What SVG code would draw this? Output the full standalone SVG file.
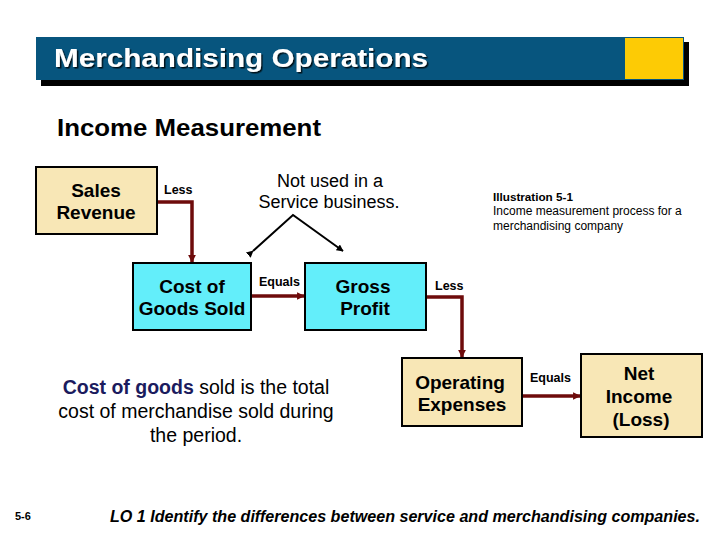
<svg xmlns="http://www.w3.org/2000/svg" width="720" height="540" viewBox="0 0 720 540">
<style>
.box{stroke:#000;stroke-width:2}
.tan{fill:#F8E7B6}
.cyan{fill:#63EEFA}
.lbl{font-family:"Liberation Sans",Arial,sans-serif;font-weight:bold;font-size:19px;fill:#000;text-anchor:middle}
.small{font-family:"Liberation Sans",Arial,sans-serif;font-weight:bold;font-size:12.5px;fill:#000}
.reg{font-family:"Liberation Sans",Arial,sans-serif;font-size:18px;fill:#000;text-anchor:middle}
.red{fill:none;stroke:#6E0B0B;stroke-width:3.5}
.blk{fill:none;stroke:#000;stroke-width:2}
</style>
<defs>
<marker id="ar" viewBox="0 0 10 10" refX="9" refY="5" markerWidth="2.2" markerHeight="2.2" orient="auto" markerUnits="strokeWidth">
<path d="M0,0 L10,5 L0,10 z" fill="#6E0B0B"/>
</marker>
<marker id="ab" viewBox="0 0 10 10" refX="9" refY="5" markerWidth="3.5" markerHeight="3.5" orient="auto" markerUnits="strokeWidth">
<path d="M0,0 L10,5 L0,10 z" fill="#000"/>
</marker>
<filter id="ts" x="-5%" y="-20%" width="110%" height="140%">
<feDropShadow dx="1.5" dy="1.5" stdDeviation="0.5" flood-color="#000" flood-opacity="0.8"/>
</filter>
</defs>
<rect width="720" height="540" fill="#fff"/>
<g id="header">
<rect x="41" y="42" width="648" height="44" fill="#000"/>
<rect x="36" y="37" width="648" height="43" fill="#07557E"/>
<rect x="625" y="38" width="58" height="41" fill="#FDCB05"/>
<text x="54" y="67" font-family="Liberation Sans,Arial,sans-serif" font-weight="bold" font-size="25" fill="#fff" textLength="374" lengthAdjust="spacingAndGlyphs" filter="url(#ts)">Merchandising Operations</text>
</g>
<text x="57" y="136" font-family="Liberation Sans,Arial,sans-serif" font-weight="bold" font-size="24" fill="#000" textLength="264" lengthAdjust="spacingAndGlyphs">Income Measurement</text>
<g id="connectors">
<polyline class="red" points="157,202 192,202 192,262" marker-end="url(#ar)"/>
<line class="red" x1="251" y1="296" x2="304" y2="296" marker-end="url(#ar)"/>
<polyline class="red" points="426,297 462,297 462,357" marker-end="url(#ar)"/>
<line class="red" x1="522" y1="396" x2="580" y2="396" marker-end="url(#ar)"/>
<polyline class="blk" points="253,251 293,215 343,251" marker-start="url(#ab)" marker-end="url(#ab)"/>
<text class="small" x="164" y="194">Less</text>
<text class="small" x="259" y="286">Equals</text>
<text class="small" x="435" y="290">Less</text>
<text class="small" x="530" y="382">Equals</text>
</g>
<g id="sales-revenue">
<rect class="box tan" x="36" y="167" width="121" height="67"/>
<text class="lbl" x="96" y="197">Sales</text>
<text class="lbl" x="96" y="219">Revenue</text>
</g>
<g id="cogs">
<rect class="box cyan" x="133" y="263" width="118" height="67"/>
<text class="lbl" x="192" y="293">Cost of</text>
<text class="lbl" x="192" y="315">Goods Sold</text>
</g>
<g id="gross-profit">
<rect class="box cyan" x="305" y="263" width="121" height="67"/>
<text class="lbl" x="363" y="293">Gross</text>
<text class="lbl" x="365" y="315">Profit</text>
</g>
<g id="operating-expenses">
<rect class="box tan" x="402" y="358" width="120" height="68"/>
<text class="lbl" x="460" y="389">Operating</text>
<text class="lbl" x="462" y="411">Expenses</text>
</g>
<g id="net-income">
<rect class="box tan" x="581" y="354" width="121" height="83"/>
<text class="lbl" x="639" y="380">Net</text>
<text class="lbl" x="639" y="403">Income</text>
<text class="lbl" x="641" y="426">(Loss)</text>
</g>
<g id="note">
<text class="reg" x="330" y="187">Not used in a</text>
<text class="reg" x="329" y="208">Service business.</text>
</g>
<g id="illustration">
<text x="493" y="201" font-family="Liberation Sans,Arial,sans-serif" font-weight="bold" font-size="11.7" fill="#000">Illustration 5-1</text>
<text x="493" y="215" font-family="Liberation Sans,Arial,sans-serif" font-size="12" fill="#000">Income measurement process for a</text>
<text x="493" y="230" font-family="Liberation Sans,Arial,sans-serif" font-size="12" fill="#000">merchandising company</text>
</g>
<g id="definition" font-family="Liberation Sans,Arial,sans-serif" font-size="19.5" text-anchor="middle" fill="#000">
<text x="196" y="394"><tspan font-weight="bold" fill="#1B1B5E">Cost of goods</tspan> sold is the total</text>
<text x="196" y="418">cost of merchandise sold during</text>
<text x="196" y="442">the period.</text>
</g>
<text x="15" y="520" font-family="Liberation Sans,Arial,sans-serif" font-weight="bold" font-size="11" fill="#000">5-6</text>
<text x="110" y="522" font-family="Liberation Sans,Arial,sans-serif" font-weight="bold" font-style="italic" font-size="16" fill="#000" textLength="590" lengthAdjust="spacingAndGlyphs">LO 1  Identify the differences between service and merchandising companies.</text>
</svg>
